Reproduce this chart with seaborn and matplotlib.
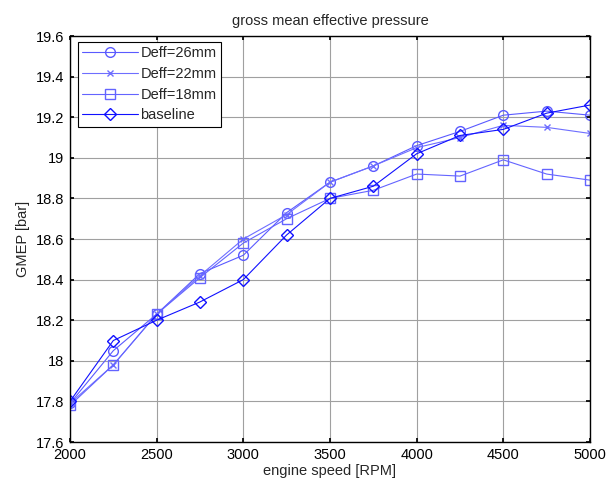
import numpy as np
import pandas as pd
import matplotlib
matplotlib.use("Agg")
import matplotlib.pyplot as plt
import seaborn as sns
from matplotlib.ticker import FuncFormatter

speed = [2000, 2250, 2500, 2750, 3000, 3250, 3500, 3750, 4000, 4250, 4500, 4750, 5000]
deff26 = [17.79, 18.05, 18.23, 18.43, 18.52, 18.73, 18.88, 18.96, 19.06, 19.13, 19.21, 19.23, 19.21]
deff22 = [17.79, 17.98, 18.23, 18.42, 18.60, 18.72, 18.88, 18.96, 19.05, 19.10, 19.16, 19.15, 19.12]
deff18 = [17.78, 17.98, 18.23, 18.41, 18.58, 18.70, 18.80, 18.84, 18.92, 18.91, 18.99, 18.92, 18.89]
baseline = [17.80, 18.10, 18.20, 18.29, 18.40, 18.62, 18.80, 18.86, 19.02, 19.11, 19.14, 19.22, 19.26]
labels = ["Deff=26mm", "Deff=22mm", "Deff=18mm", "baseline"]

sns.set_theme(style="white")
plt.rcParams['font.family'] = ['Liberation Sans', 'DejaVu Sans']

fig = plt.figure(figsize=(6.08, 4.92), dpi=100)
ax = fig.add_axes([0.1151, 0.1016, 0.8553, 0.8252])

series = [deff26, deff22, deff18, baseline]
colors = ['#5a5aff', '#6e6eff', '#6464ff', '#1010ff']
markers = ['o', 'x', 's', 'D']
msizes = [7, 4, 7, 6]
for vals, lab, c, m, ms in zip(series, labels, colors, markers, msizes):
    df = pd.DataFrame({"speed": speed, "gmep": vals})
    sns.lineplot(data=df, x="speed", y="gmep", ax=ax, color=c, marker=m,
                 markersize=ms, markerfacecolor='none', markeredgecolor=c,
                 markeredgewidth=1.0, linewidth=0.8, label=lab)

fs = 10.5
ax.set_xlim(2000, 5000)
ax.set_ylim(17.6, 19.6)
ax.set_xticks(np.arange(2000, 5001, 500))
ax.set_yticks(np.arange(17.6, 19.61, 0.2))
ax.yaxis.set_major_formatter(FuncFormatter(lambda v, p: ('%.1f' % v).rstrip('0').rstrip('.')))
ax.grid(True, color='#a0a0a0', linewidth=0.8)
ax.tick_params(direction='in', length=3, labelsize=fs, colors='black', pad=4,
               top=True, right=True, bottom=True, left=True)
for s in ax.spines.values():
    s.set_color('black')
    s.set_linewidth(1.0)
ax.set_xlabel("engine speed [RPM]", fontsize=fs, labelpad=2)
ax.set_ylabel("GMEP [bar]", fontsize=fs, labelpad=4)
ax.set_title("gross mean effective pressure", fontsize=fs, pad=8)

leg = ax.legend(loc='upper left', bbox_to_anchor=(0.015, 0.985), fontsize=fs,
                frameon=True, fancybox=False, edgecolor='black', framealpha=1,
                handlelength=3.8, borderpad=0.3, labelspacing=0.45, handletextpad=0.2,
                borderaxespad=0.0)
leg.get_frame().set_linewidth(0.8)

fig.savefig("out.png", dpi=100)
